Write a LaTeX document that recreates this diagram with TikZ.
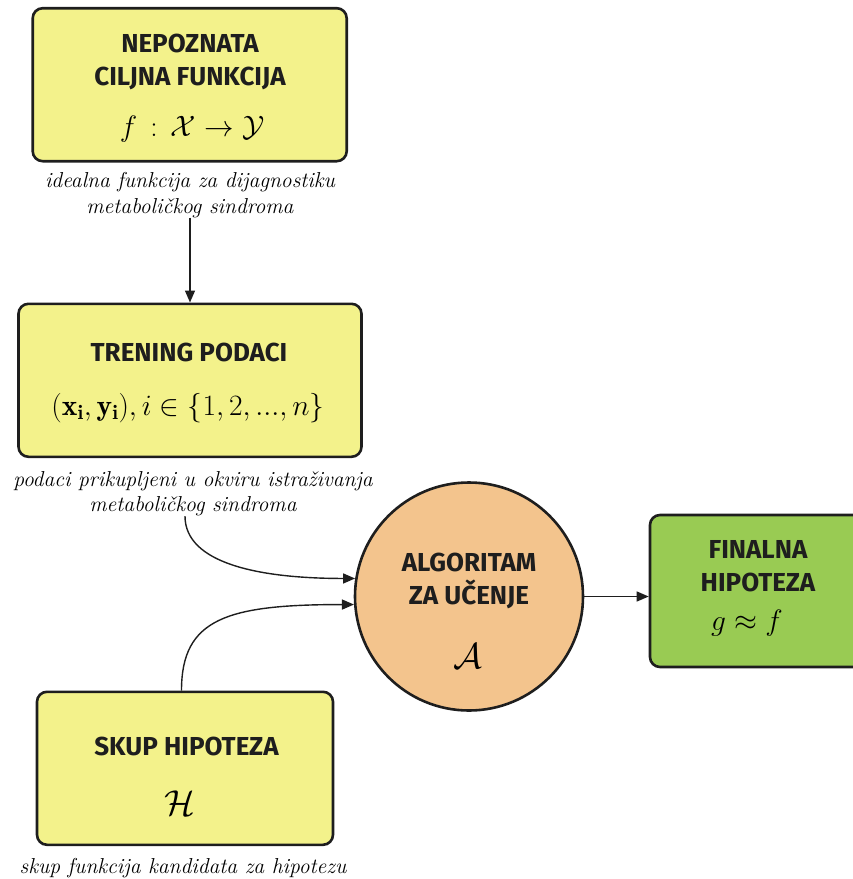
\RequirePackage{fix-cm}
\documentclass[tikz,border=0pt]{standalone}
\usepackage{amsmath}
\usepackage{fontspec}
\newfontfamily\headfont{Fira Sans}
\usetikzlibrary{arrows.meta}
\definecolor{boxyellow}{HTML}{F3F28B}
\definecolor{algorange}{HTML}{F3C48D}
\definecolor{finalgreen}{HTML}{99CB53}
\definecolor{ink}{HTML}{1E1E1E}
\tikzset{
  card/.style={draw=ink, line width=2.6pt, rounded corners=10pt, inner sep=0pt},
  heading/.style={anchor=base, align=center, text=ink, inner sep=0pt,
    font=\headfont\bfseries\fontsize{26}{32.5}\selectfont},
  formula/.style={anchor=base, inner sep=0pt, font=\fontsize{29.5}{30}\selectfont},
  bigsym/.style={anchor=base, inner sep=0pt, font=\fontsize{36}{36}\selectfont},
  caption/.style={anchor=base, align=center, inner sep=0pt,
    font=\itshape\fontsize{21.6}{25.3}\selectfont},
  link/.style={draw=ink, line width=1.4pt, -{Triangle[length=12pt,width=10pt]}}
}
\begin{document}
\begin{tikzpicture}[x=1pt,y=-1pt]
\useasboundingbox (0,0) rectangle (853,879);

% unknown target function (multi-line nodes sit on their last baseline)
\node[card, fill=boxyellow, minimum width=314, minimum height=153] (target) at (189.7,84.7) {};
\node[heading] (targethead) at (190,85) {NEPOZNATA\\CILJNA FUNKCIJA};
\node[formula] (targetmath) at (192,136) {$f \,:\, \mathcal{X} \to \mathcal{Y}$};
\node[caption] (targetcap) at (190,213) {idealna funkcija za dijagnostiku\\metaboličkog sindroma};

% training data
\node[card, fill=boxyellow, minimum width=343, minimum height=153] (train) at (190,380.3) {};
\node[heading] (trainhead) at (189,361.5) {TRENING PODACI};
\node[formula] (trainmath) at (188,415) {$(\mathbf{x_i},\mathbf{y_i}), i \in \{1,2,...,n\}$};
\node[caption] (traincap) at (193,511.5) {podaci prikupljeni u okviru istraživanja\\metaboličkog sindroma};

% hypothesis set
\node[card, fill=boxyellow, minimum width=296, minimum height=153] (hyp) at (185,768.3) {};
\node[heading] (hyphead) at (186.5,755) {SKUP HIPOTEZA};
\node[bigsym] (hypmath) at (180,815) {$\mathcal{H}$};
\node[caption] (hypcap) at (183,873) {skup funkcija kandidata za hipotezu};

% learning algorithm
\node[circle, draw=ink, line width=2.6pt, fill=algorange, minimum size=228, inner sep=0pt] (alg) at (469,596.5) {};
\node[heading] (alghead) at (469,604) {ALGORITAM\\ZA UČENJE};
\node[bigsym] (algmath) at (468,668) {$\mathcal{A}$};

% final hypothesis
\node[card, fill=finalgreen, minimum width=230, minimum height=152] (final) at (765,591) {};
\node[heading] (finalhead) at (758,591) {FINALNA\\HIPOTEZA};
\node[formula] (finalmath) at (747,630) {$g \approx f$};

% connectors
\draw[link] (targetcap.south) -- (train.north);
\draw[link] ([xshift=-8pt]traincap.south) .. controls +(0,47) and +(-97,0) .. (alg.171.6);
\draw[link] ([xshift=-3.5pt]hyp.north) .. controls +(0,-72) and +(-127,0) .. (alg.184.8);
\draw[link] (alg.east) -- (alg.east -| final.west);
\end{tikzpicture}
\end{document}
